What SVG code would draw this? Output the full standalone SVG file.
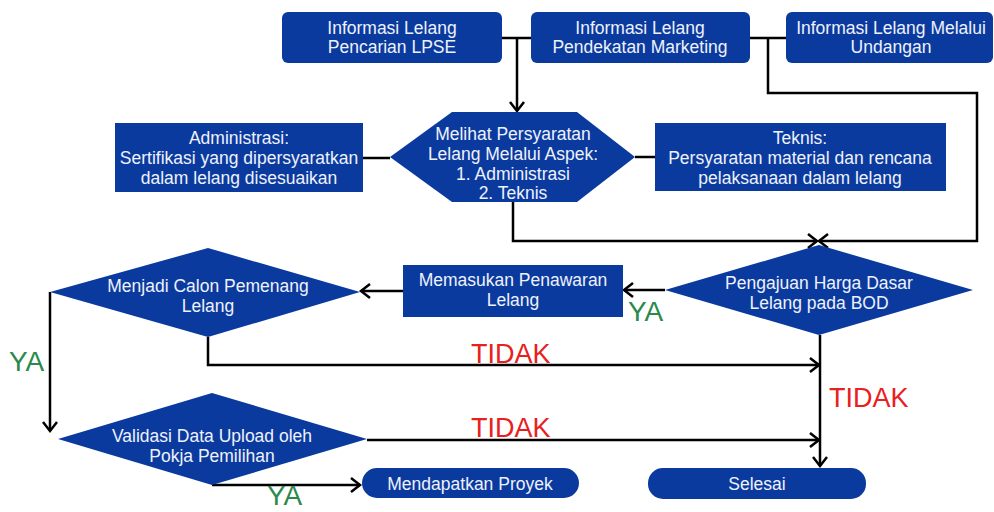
<svg xmlns="http://www.w3.org/2000/svg" width="994" height="512" viewBox="0 0 994 512">
<style>
.n{fill:#0b3a9f;}
.t{font-family:"Liberation Sans",Arial,sans-serif;font-size:17.5px;fill:#eef2fb;text-anchor:middle;}
.c{fill:none;stroke:#000;stroke-width:2.5;}
.ya{font-family:"Liberation Sans",Arial,sans-serif;font-size:28px;fill:#2a8a4c;}
.no{font-family:"Liberation Sans",Arial,sans-serif;font-size:27px;fill:#e8201e;}
</style>
<defs>
<marker id="a" markerWidth="14" markerHeight="16" refX="11" refY="8" orient="auto" markerUnits="userSpaceOnUse">
<path d="M2,1 L11,8 L2,15" fill="none" stroke="#000" stroke-width="2.5"/>
</marker>
</defs>
<rect width="994" height="512" fill="#fff"/>
<g id="connectors">
<path class="c" d="M502,38 H531 M517,38 V111" marker-end="url(#a)"/>
<path class="c" d="M750,38 H786"/>
<path class="c" d="M768,38 V93 H977 V241 H819" marker-end="url(#a)"/>
<path class="c" d="M513,202 V241 H817" marker-end="url(#a)"/>
<path class="c" d="M363,158 H390"/>
<path class="c" d="M635,157 H655"/>
<path class="c" d="M665,290 H624" marker-end="url(#a)"/>
<path class="c" d="M403,291 H361" marker-end="url(#a)"/>
<path class="c" d="M208,337 V365 H819" marker-end="url(#a)"/>
<path class="c" d="M820,335 V466" marker-end="url(#a)"/>
<path class="c" d="M50,292 V431" marker-end="url(#a)"/>
<path class="c" d="M367,440 H819" marker-end="url(#a)"/>
<path class="c" d="M212,485 H360" marker-end="url(#a)"/>
<text class="ya" x="628" y="321">YA</text>
<text class="ya" x="9" y="371">YA</text>
<text class="ya" x="267" y="505">YA</text>
<text class="no" x="471" y="363">TIDAK</text>
<text class="no" x="829" y="407">TIDAK</text>
<text class="no" x="471" y="437">TIDAK</text>
</g>
<g id="lpse">
<rect class="n" x="282" y="12" width="220" height="51" rx="6"/>
<text class="t" x="392" y="34">Informasi Lelang</text>
<text class="t" x="392" y="53">Pencarian LPSE</text>
</g>
<g id="marketing">
<rect class="n" x="531" y="12" width="219" height="51" rx="6"/>
<text class="t" x="640" y="34">Informasi Lelang</text>
<text class="t" x="640" y="53">Pendekatan Marketing</text>
</g>
<g id="undangan">
<rect class="n" x="786" y="12" width="207" height="51" rx="6"/>
<text class="t" x="891" y="34">Informasi Lelang Melalui</text>
<text class="t" x="891" y="53">Undangan</text>
</g>
<g id="persyaratan">
<polygon class="n" points="452,112 577,112 635,157 577,202 452,202 390,157"/>
<text class="t" x="513" y="140">Melihat Persyaratan</text>
<text class="t" x="513" y="160">Lelang Melalui Aspek:</text>
<text class="t" x="513" y="180">1. Administrasi</text>
<text class="t" x="513" y="199">2. Teknis</text>
</g>
<g id="administrasi">
<rect class="n" x="115" y="123" width="248" height="69"/>
<text class="t" x="239" y="144">Administrasi:</text>
<text class="t" x="239" y="164">Sertifikasi yang dipersyaratkan</text>
<text class="t" x="239" y="184">dalam lelang disesuaikan</text>
</g>
<g id="teknis">
<rect class="n" x="655" y="123" width="291" height="68"/>
<text class="t" x="800" y="144">Teknis:</text>
<text class="t" x="800" y="164">Persyaratan material dan rencana</text>
<text class="t" x="800" y="184">pelaksanaan dalam lelang</text>
</g>
<g id="pengajuan">
<polygon class="n" points="665,290 819,245 973,290 819,335"/>
<text class="t" x="819" y="289">Pengajuan Harga Dasar</text>
<text class="t" x="819" y="309">Lelang pada BOD</text>
</g>
<g id="penawaran">
<rect class="n" x="403" y="265" width="220" height="52"/>
<text class="t" x="513" y="286">Memasukan Penawaran</text>
<text class="t" x="513" y="306">Lelang</text>
</g>
<g id="calon">
<polygon class="n" points="50,292 208,248 360,292 208,337"/>
<text class="t" x="208" y="292">Menjadi Calon Pemenang</text>
<text class="t" x="208" y="312">Lelang</text>
</g>
<g id="validasi">
<polygon class="n" points="58,439 212,393 367,439 212,485"/>
<text class="t" x="212" y="442">Validasi Data Upload oleh</text>
<text class="t" x="212" y="462">Pokja Pemilihan</text>
</g>
<g id="proyek">
<rect class="n" x="362" y="468" width="217" height="30" rx="15"/>
<text class="t" x="470" y="490">Mendapatkan Proyek</text>
</g>
<g id="selesai">
<rect class="n" x="648" y="468" width="218" height="31" rx="15"/>
<text class="t" x="757" y="490">Selesai</text>
</g>
</svg>
